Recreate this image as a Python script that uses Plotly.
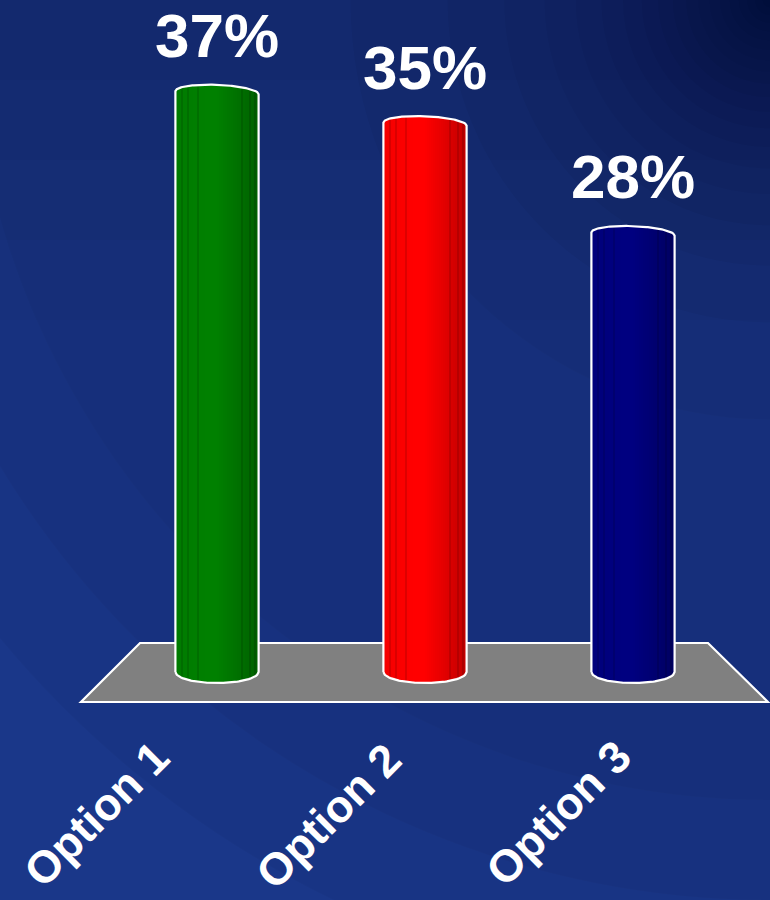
import numpy as np
import plotly.graph_objects as go

# ---------------- data ----------------
categories = ["Option 1", "Option 2", "Option 3"]
values = [37, 35, 28]
value_labels = ["37%", "35%", "28%"]
bar_colors = ["#008000", "#ff0000", "#000080"]

# ---------------- layout geometry (pixels) ----------------
W, H = 770, 900
X_PX0, X_PX_PER = 217.0, 208.0      # pixel of category 0, pixels per category
Y_PX0, Y_PX_PER = 672.0, 15.7       # pixel of value 0, pixels per unit
x_range = [-X_PX0 / X_PX_PER, (W - X_PX0) / X_PX_PER]
y_range = [-(H - Y_PX0) / Y_PX_PER, Y_PX0 / Y_PX_PER]

BAR_W = 0.40          # bar width in category units
TOP_BULGE = 0.50      # height of top cap arc (value units)
TOP_TILT = 0.10       # slight slope of the top cap
BOT_BULGE = 0.70      # depth of bottom arc
N = 42                # vertical shading strips per cylinder


def hex_to_rgb(h):
    h = h.lstrip("#")
    return tuple(int(h[i:i + 2], 16) for i in (0, 2, 4))


def shade(h, f):
    r, g, b = hex_to_rgb(h)
    return "rgb(%d,%d,%d)" % (min(255, r * f), min(255, g * f), min(255, b * f))


def top_curve(v, u):
    return v + TOP_BULGE * np.sqrt(np.clip(1 - u ** 2, 0, 1)) - TOP_TILT * (u + 1)


def bottom_curve(u):
    return -BOT_BULGE * np.sqrt(np.clip(1 - u ** 2, 0, 1))


dark_lines = {3, 6, 11, 33, 37, 40}

sx, sy, sbase, scol = [], [], [], []
for i, (v, c) in enumerate(zip(values, bar_colors)):
    for k in range(N):
        u = -1 + (2 * k + 1) / N
        f = 1.0 - 0.24 * max(0.0, u) - 0.06 * max(0.0, -u - 0.3)
        if k in dark_lines:
            f *= 0.88
        b0 = bottom_curve(u)
        sx.append(i + u * BAR_W / 2)
        sbase.append(b0)
        sy.append(top_curve(v, u) - b0)
        scol.append(shade(c, f))

fig = go.Figure()

fig.add_trace(go.Bar(
    x=sx, y=sy, base=sbase, width=BAR_W / N * 1.15,
    marker=dict(color=scol, line=dict(width=0)),
    hoverinfo="skip", showlegend=False,
))

# white outline of each cylinder
ox, oy = [], []
uu = np.linspace(-1, 1, 60)
for i, v in enumerate(values):
    xl, xr = i - BAR_W / 2, i + BAR_W / 2
    ox += [xl, xl]
    oy += [bottom_curve(-1.0), top_curve(v, -1.0)]
    ox += list(i + uu * BAR_W / 2)
    oy += list(top_curve(v, uu))
    ox += [xr]
    oy += [bottom_curve(1.0)]
    ox += list(i + uu[::-1] * BAR_W / 2)
    oy += list(bottom_curve(uu[::-1]))
    ox.append(None)
    oy.append(None)

fig.add_trace(go.Scatter(
    x=ox, y=oy, mode="lines", line=dict(color="white", width=2.2),
    hoverinfo="skip", showlegend=False,
))

# ---------------- background and floor ----------------
shapes = []
for hgt in (80, 160, 240, 320):
    shapes.append(dict(
        type="rect", xref="paper", yref="paper", layer="below",
        x0=0, x1=1, y0=1 - hgt / H, y1=1,
        fillcolor="rgba(5,10,35,0.03)", line=dict(width=0),
    ))
radii = [140 * np.log(20.0 / k) for k in range(1, 20)] + [800, 900, 1000]
for r in radii:
    shapes.append(dict(
        type="circle", xref="paper", yref="paper", layer="below",
        x0=(W - r) / W, x1=(W + r) / W, y0=1 - r / H, y1=1 + r / H,
        fillcolor="rgba(5,10,35,0.04)", line=dict(width=0),
    ))


def px(xp, yp):
    return "%.5f %.5f" % (xp / W, 1 - yp / H)


shapes.append(dict(
    type="path", xref="paper", yref="paper", layer="below",
    path="M %s L %s L %s L %s Z" % (px(140, 643), px(708, 643), px(768, 702), px(81, 702)),
    fillcolor="#808080", line=dict(color="white", width=2.2),
))

annotations = []
for i, (v, t) in enumerate(zip(values, value_labels)):
    annotations.append(dict(
        x=i, y=v, xref="x", yref="y", text="<b>%s</b>" % t, showarrow=False,
        xanchor="center", yanchor="bottom", yshift=19,
        font=dict(family="Liberation Sans, Arial, sans-serif", size=62, color="white"),
    ))

label_pos = [(96, 814), (328, 816), (558, 813)]
for name, (lx, ly) in zip(categories, label_pos):
    annotations.append(dict(
        x=lx / W, y=1 - ly / H, xref="paper", yref="paper",
        text="<b>%s</b>" % name, showarrow=False, textangle=-45,
        xanchor="center", yanchor="middle", borderpad=0,
        font=dict(family="Liberation Sans, Arial, sans-serif", size=45, color="white"),
    ))

fig.update_layout(
    width=W, height=H,
    margin=dict(l=0, r=0, t=0, b=0),
    paper_bgcolor="#1a3789", plot_bgcolor="rgba(0,0,0,0)",
    barmode="overlay", bargap=0,
    xaxis=dict(range=x_range, visible=False, fixedrange=True),
    yaxis=dict(range=y_range, visible=False, fixedrange=True),
    shapes=shapes, annotations=annotations,
    hovermode=False, showlegend=False,
)

fig.write_html(
    "out.html",
    config={"displayModeBar": False},
    post_script="document.body.style.margin='0';document.body.style.background='#1a3789';",
)
